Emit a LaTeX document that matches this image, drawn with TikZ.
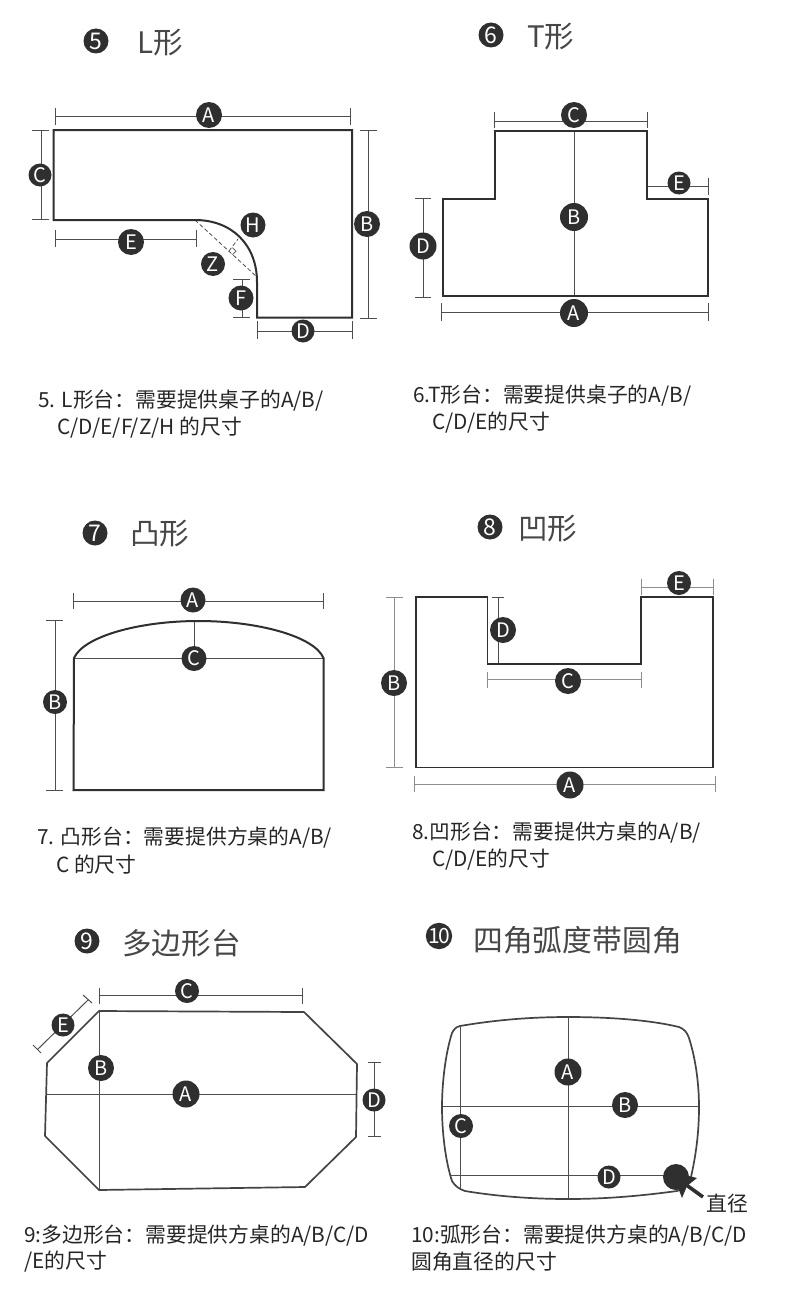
\documentclass[tikz,border=0pt]{standalone}
\usepackage{fontspec}
\setmainfont{Noto Sans CJK SC}
\definecolor{ink}{HTML}{2F2F2F}
\definecolor{txt}{HTML}{262626}
\tikzset{
  outline/.style={draw=ink,line width=2pt,line join=miter},
  thinoutline/.style={draw=ink!90,line width=1.7pt,line join=round},
  dimline/.style={draw=ink!85,line width=1pt},
  inner/.style={draw=ink!85,line width=1pt},
  badge/.style={circle,fill=ink,text=white,inner sep=0pt,minimum size=26pt,font=\fontsize{20}{20}\selectfont},
  numbadge/.style={circle,fill=ink,text=white,inner sep=0pt,minimum size=25pt,font=\fontsize{23}{23}\selectfont},
  bigtitle/.style={anchor=west,inner sep=0pt,text=txt!85,font=\fontsize{29.6}{32}\selectfont},
  body/.style={anchor=west,inner sep=0pt,text=txt,font=\fontsize{20.8}{24}\selectfont},
}
% id, x1, x2, y, tick top, tick bottom
\newcommand{\hdim}[6]{%
  \coordinate (#1-a) at (#2,#4); \coordinate (#1-b) at (#3,#4);
  \coordinate (#1-at) at (#2,#5); \coordinate (#1-ab) at (#2,#6);
  \coordinate (#1-bt) at (#3,#5); \coordinate (#1-bb) at (#3,#6);
  \draw[dimline] (#1-a)--(#1-b) (#1-at)--(#1-ab) (#1-bt)--(#1-bb);}
% id, y1, y2, x, tick left, tick right
\newcommand{\vdim}[6]{%
  \coordinate (#1-a) at (#4,#2); \coordinate (#1-b) at (#4,#3);
  \coordinate (#1-at) at (#5,#2); \coordinate (#1-ab) at (#6,#2);
  \coordinate (#1-bt) at (#5,#3); \coordinate (#1-bb) at (#6,#3);
  \draw[dimline] (#1-a)--(#1-b) (#1-at)--(#1-ab) (#1-bt)--(#1-bb);}
\begin{document}
\begin{tikzpicture}[x=1pt,y=-1pt]
\useasboundingbox (0,0) rectangle (790,1298);
\fill[white] (0,0) rectangle (790,1298);

% ---------- 5 L
\node[numbadge] (n5) at (96,41) {5};
\node[bigtitle] (t5) at (137,43) {L形};
\hdim{la}{55}{350}{116}{108}{125}
\vdim{lc}{130}{219}{41}{32}{49}
\vdim{lb}{130}{318}{368}{360}{377}
\hdim{le}{55}{196}{239}{230}{247}
\hdim{ld}{257}{352}{331}{321}{339}
\vdim{lf}{279}{317}{242}{233}{250}
\coordinate (lch1) at (195,220); \coordinate (lch2) at (257,277);
\coordinate (lpf) at (229,251); \coordinate (lpt) at (238,239);
\draw[dimline,dash pattern=on 4pt off 2.5pt,line width=0.8pt] (lch1)--(lch2) (lpf)--(lpt);
\draw[dimline,line width=0.7pt] (232.6,247.6)--(236,251.3)--(232.4,254.6);
\draw[outline] (53.5,130)--(352,130)--(352,317.5)--(257,317.5)--(257,282)
  .. controls (257,245) and (232,220) .. (195,220) -- (53.5,220) -- cycle;
\node[badge] (lA) at (209,115) {A};
\node[badge] (lB) at (367,224) {B};
\node[badge,minimum size=23pt] (lC) at (40,175) {C};
\node[badge,minimum size=23pt] (lD) at (303,331) {D};
\node[badge] (lE) at (131,242) {E};
\node[badge,minimum size=25pt] (lF) at (241,298) {F};
\node[badge,minimum size=24pt] (lZ) at (213,264) {Z};
\node[badge,minimum size=25pt] (lH) at (253,225) {H};
\node[body] (b5a) at (38,401) {5. L形台：需要提供桌子的A/B/};
\node[body] (b5b) at (57,428) {C/D/E/F/Z/H 的尺寸};

% ---------- 6 T
\node[numbadge] (n6) at (491,35) {6};
\node[bigtitle] (t6) at (527,37) {T形};
\hdim{tc}{494}{647}{121}{112}{128}
\hdim{te}{647}{708}{186}{178}{195}
\vdim{td}{198}{297}{423}{415}{431}
\hdim{ta}{441}{708}{312}{303}{321}
\coordinate (tb1) at (574,131); \coordinate (tb2) at (574,296);
\draw[inner] (tb1)--(tb2);
\draw[outline] (442.5,296)--(442.5,199)--(495,199)--(495,131)--(647,131)--(647,199)--(708,199)--(708,296)--cycle;
\node[badge] (tC) at (574,115) {C};
\node[badge,minimum size=28pt] (tB) at (574,217) {B};
\node[badge,minimum size=23pt] (tE) at (679,183) {E};
\node[badge,minimum size=27pt] (tD) at (423,246) {D};
\node[badge,minimum size=28pt] (tA) at (574,313) {A};
\node[body] (b6a) at (413,396) {6.T形台：需要提供桌子的A/B/};
\node[body] (b6b) at (432,423) {C/D/E的尺寸};

% ---------- 7
\node[numbadge] (n7) at (95,533) {7};
\node[bigtitle] (t7) at (130,534) {凸形};
\hdim{ca}{73.5}{323.5}{601.5}{593}{609}
\vdim{cb}{620.5}{790}{55}{46}{63}
\coordinate (cc1) at (194,621); \coordinate (cc2) at (194,658);
\coordinate (cl1) at (74,658); \coordinate (cl2) at (324,658);
\draw[inner] (cc1)--(cc2) (cl1)--(cl2);
\draw[outline] (74,658) .. controls (84,636) and (140,621) .. (198.5,621)
  .. controls (257,621) and (314,636) .. (323.5,658) -- (323.5,790) -- (73.5,790) -- cycle;
\node[badge,minimum size=25pt] (cA) at (193,600) {A};
\node[badge,minimum size=25pt] (cC) at (194,658.5) {C};
\node[badge,minimum size=24pt] (cB) at (55,702) {B};
\node[body] (b7a) at (37,838) {7. 凸形台：需要提供方桌的A/B/};
\node[body] (b7b) at (56,865) {C 的尺寸};

% ---------- 8
\node[numbadge] (n8) at (490,527) {8};
\node[bigtitle] (t8) at (518,529) {凹形};
\begin{scope}[dimline/.style={draw=ink!55,line width=1pt}]
\hdim{ue}{641}{713}{587}{579}{595}
\vdim{ub}{597}{767}{394}{386}{403}
\hdim{uc}{487}{641}{679}{672}{688}
\hdim{ua}{414}{715}{784}{776}{792}
\end{scope}
\vdim{ud}{597}{663}{498}{492}{504}
\draw[outline,line width=1.8pt] (416,597)--(487.5,597)--(487.5,664)--(641,664)--(641,597)--(713,597)--(713,767.5)--(416,767.5)--cycle;
\node[badge,minimum size=24pt] (uE) at (679,583) {E};
\node[badge] (uD) at (503,630) {D};
\node[badge] (uC) at (568,681) {C};
\node[badge] (uB) at (394,683) {B};
\node[badge,minimum size=27pt] (uA) at (570,785) {A};
\node[body] (b8a) at (412,833) {8.凹形台：需要提供方桌的A/B/};
\node[body] (b8b) at (432,860) {C/D/E的尺寸};

% ---------- 9
\node[numbadge] (n9) at (87,941) {9};
\node[bigtitle] (t9) at (122,943) {多边形台};
\hdim{pc}{99}{302}{995}{988}{1004}
\vdim{pd}{1062}{1136}{374}{368}{381}
\coordinate (pe1) at (38,1049); \coordinate (pe2) at (88,1000);
\coordinate (pe1a) at (33,1045); \coordinate (pe1b) at (41,1053);
\coordinate (pe2a) at (83,995); \coordinate (pe2b) at (92,1003);
\draw[dimline] (pe1)--(pe2) (pe1a)--(pe1b) (pe2a)--(pe2b);
\coordinate (pa1) at (46,1094); \coordinate (pa2) at (357,1094);
\coordinate (pb1) at (99,1011); \coordinate (pb2) at (99,1190);
\draw[inner] (pa1)--(pa2) (pb1)--(pb2);
\draw[thinoutline] (99,1011)--(304,1012)--(357,1064)--(356,1137)--(305,1187)--(99,1190)--(45,1136)--(47,1063)--cycle;
\node[badge,minimum size=27pt] (pA) at (186,1094) {A};
\node[badge] (pB) at (101,1068) {B};
\node[badge,minimum size=24pt] (pC) at (187,991) {C};
\node[badge,minimum size=23pt] (pD) at (374,1100) {D};
\node[badge,minimum size=23pt] (pE) at (63,1025) {E};
\node[body] (b9a) at (24,1236) {9:多边形台：需要提供方桌的A/B/C/D};
\node[body] (b9b) at (24,1262) {/E的尺寸};

% ---------- 10
\node[numbadge,font=\fontsize{21}{21}\selectfont] (n10) at (439,936) {1\kern-2pt 0};
\node[bigtitle,font=\fontsize{29.8}{32}\selectfont] (t10) at (473,940) {四角弧度带圆角};
\coordinate (ra1) at (568,1017); \coordinate (ra2) at (568,1199);
\coordinate (rb1) at (442,1106); \coordinate (rb2) at (699,1106);
\coordinate (rc1) at (460,1026); \coordinate (rc2) at (460,1190);
\coordinate (rd1) at (451,1175); \coordinate (rd2) at (677,1175);
\draw[inner] (ra1)--(ra2) (rb1)--(rb2) (rc1)--(rc2) (rd1)--(rd2);
\draw[thinoutline] (460,1026) .. controls (495,1020) and (530,1017) .. (568,1017)
  .. controls (610,1017) and (650,1020) .. (679,1027)
  .. controls (684,1029) and (687,1032) .. (689,1038)
  .. controls (696,1060) and (699,1085) .. (699,1107)
  .. controls (699,1132) and (696,1155) .. (691,1177)
  .. controls (688,1185) and (684,1189) .. (677,1191)
  .. controls (640,1196) and (605,1199) .. (568,1199)
  .. controls (530,1199) and (495,1196) .. (465,1191)
  .. controls (459,1189) and (455,1186) .. (452,1181)
  .. controls (445,1160) and (442,1130) .. (442,1107)
  .. controls (442,1085) and (445,1055) .. (452,1033)
  .. controls (454,1029) and (456,1027) .. (460,1026) -- cycle;
\node[badge,minimum size=27pt] (rA) at (568,1072) {A};
\node[badge] (rB) at (625,1105) {B};
\node[badge,minimum size=24pt] (rC) at (461,1126) {C};
\node[badge,minimum size=23pt] (rD) at (609,1177) {D};
\node[circle,fill=ink,inner sep=0pt,minimum size=26pt] (rbig) at (676,1177) {};
\coordinate (rtail) at (703,1197);
\coordinate (rneck) at (685,1184);
\draw[ink,line width=3.6pt] (rtail)--(rneck);
\fill[ink] (672,1172)--(697,1178)--(687,1186)--(682,1198)--cycle;
\node[inner sep=0pt,text=txt,font=\fontsize{20.8}{24}\selectfont] (rlab) at (727,1204) {直径};
\node[body] (b10a) at (411,1236) {10:弧形台：需要提供方桌的A/B/C/D};
\node[body] (b10b) at (411,1262) {圆角直径的尺寸};
\end{tikzpicture}
\end{document}
